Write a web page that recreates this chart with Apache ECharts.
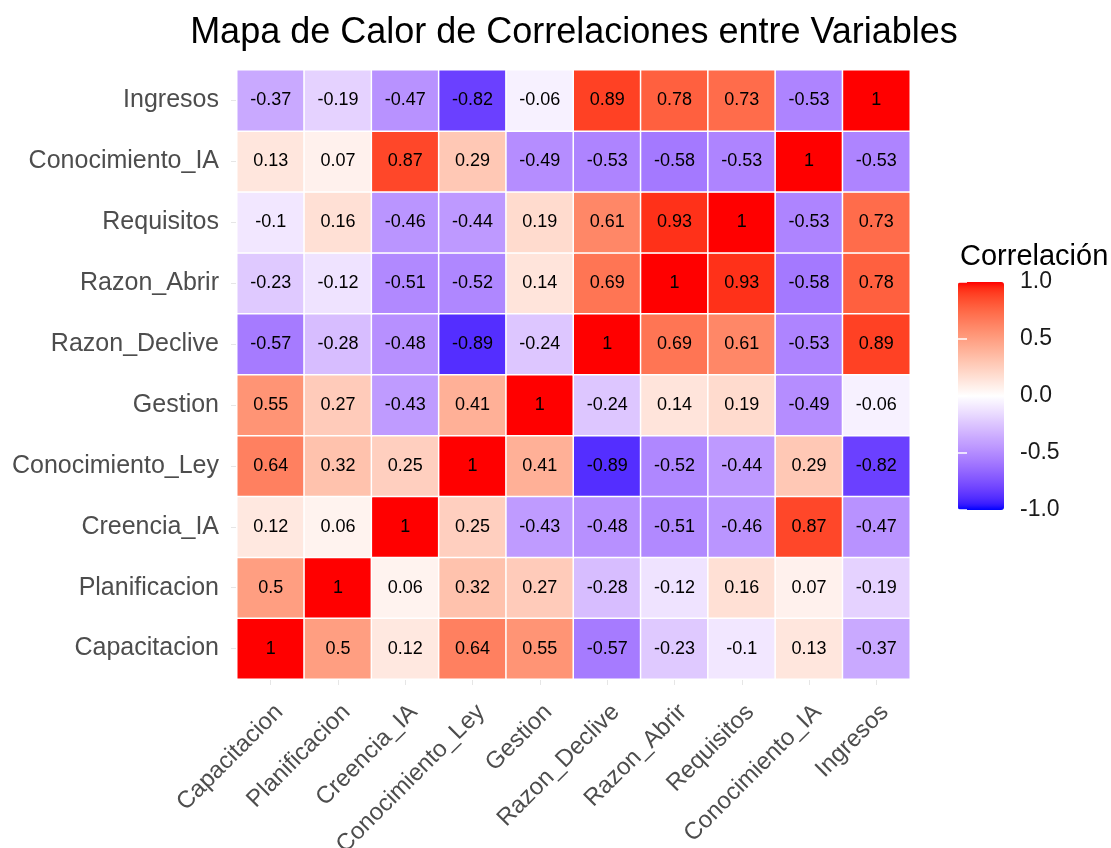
<!DOCTYPE html>
<html>
<head>
<meta charset="utf-8">
<title>Mapa de Calor de Correlaciones</title>
<script src="https://cdn.jsdelivr.net/npm/echarts@6/dist/echarts.min.js"></script>
<style>
	html, body { margin: 0; padding: 0; background: #fff; }
	#chart { width: 1111px; height: 848px; }
</style>
</head>
<body>
<div id="chart"></div>
<script>
// variables, same order on both axes (y goes bottom -> top)
var variables = ['Capacitacion', 'Planificacion', 'Creencia_IA', 'Conocimiento_Ley', 'Gestion',
	'Razon_Declive', 'Razon_Abrir', 'Requisitos', 'Conocimiento_IA', 'Ingresos'];

// one row per variable, values read left -> right
var capacitacion    = [1, 0.5, 0.12, 0.64, 0.55, -0.57, -0.23, -0.1, 0.13, -0.37];
var planificacion   = [0.5, 1, 0.06, 0.32, 0.27, -0.28, -0.12, 0.16, 0.07, -0.19];
var creenciaIA      = [0.12, 0.06, 1, 0.25, -0.43, -0.48, -0.51, -0.46, 0.87, -0.47];
var conocimientoLey = [0.64, 0.32, 0.25, 1, 0.41, -0.89, -0.52, -0.44, 0.29, -0.82];
var gestion         = [0.55, 0.27, -0.43, 0.41, 1, -0.24, 0.14, 0.19, -0.49, -0.06];
var razonDeclive    = [-0.57, -0.28, -0.48, -0.89, -0.24, 1, 0.69, 0.61, -0.53, 0.89];
var razonAbrir      = [-0.23, -0.12, -0.51, -0.52, 0.14, 0.69, 1, 0.93, -0.58, 0.78];
var requisitos      = [-0.1, 0.16, -0.46, -0.44, 0.19, 0.61, 0.93, 1, -0.53, 0.73];
var conocimientoIA  = [0.13, 0.07, 0.87, 0.29, -0.49, -0.53, -0.58, -0.53, 1, -0.53];
var ingresos        = [-0.37, -0.19, -0.47, -0.82, -0.06, 0.89, 0.78, 0.73, -0.53, 1];

var legendTicks = [-1, -0.5, 0, 0.5, 1];

var rows = [capacitacion, planificacion, creenciaIA, conocimientoLey, gestion,
	razonDeclive, razonAbrir, requisitos, conocimientoIA, ingresos];

var cells = [];
rows.forEach(function (row, y) {
	row.forEach(function (v, x) {
		cells.push([x, y, v]);
	});
});

// ggplot mixes the gradient in Lab, so build the stops that way
function toLin(c) { c = c / 255; return c <= 0.04045 ? c / 12.92 : Math.pow((c + 0.055) / 1.055, 2.4); }
function fromLin(c) { c = c <= 0.0031308 ? 12.92 * c : 1.055 * Math.pow(c, 1 / 2.4) - 0.055; return Math.max(0, Math.min(255, Math.round(c * 255))); }
function rgb2lab(rgb) {
	var r = toLin(rgb[0]), g = toLin(rgb[1]), b = toLin(rgb[2]);
	var X = (0.4124 * r + 0.3576 * g + 0.1805 * b) / 0.95047;
	var Y = (0.2126 * r + 0.7152 * g + 0.0722 * b);
	var Z = (0.0193 * r + 0.1192 * g + 0.9505 * b) / 1.08883;
	var f = function (t) { return t > 0.008856 ? Math.cbrt(t) : 7.787 * t + 16 / 116; };
	return [116 * f(Y) - 16, 500 * (f(X) - f(Y)), 200 * (f(Y) - f(Z))];
}
function lab2rgb(lab) {
	var fy = (lab[0] + 16) / 116, fx = fy + lab[1] / 500, fz = fy - lab[2] / 200;
	var inv = function (t) { return t * t * t > 0.008856 ? t * t * t : (t - 16 / 116) / 7.787; };
	var X = inv(fx) * 0.95047, Y = inv(fy), Z = inv(fz) * 1.08883;
	var r = 3.2406 * X - 1.5372 * Y - 0.4986 * Z;
	var g = -0.9689 * X + 1.8758 * Y + 0.0415 * Z;
	var b = 0.0557 * X - 0.2040 * Y + 1.0570 * Z;
	return 'rgb(' + fromLin(r) + ',' + fromLin(g) + ',' + fromLin(b) + ')';
}
var labLow = rgb2lab([0, 0, 255]), labMid = rgb2lab([255, 255, 255]), labHigh = rgb2lab([255, 0, 0]);
var stops = [];
for (var i = 0; i <= 40; i++) {
	var v = -1 + i / 20;
	var end = v < 0 ? labLow : labHigh, t = Math.abs(v);
	stops.push(lab2rgb([0, 1, 2].map(function (k) { return labMid[k] + (end[k] - labMid[k]) * t; })));
}

var font = '"Liberation Sans", Arial, sans-serif';
var chart = echarts.init(document.getElementById('chart'));

var option = {
	backgroundColor: '#fff',
	textStyle: { fontFamily: font },
	title: [
		{
			text: 'Mapa de Calor de Correlaciones entre Variables',
			left: 569, top: 10, textAlign: 'center',
			textStyle: { fontSize: 36, fontWeight: 'normal', color: '#000', fontFamily: font }
		},
		{
			text: 'Correlación',
			left: 955, top: 237,
			textStyle: { fontSize: 29, fontWeight: 'normal', color: '#000', fontFamily: font }
		}
	],
	grid: [
		{ left: 237, right: 201, top: 70, bottom: 169, outerBoundsMode: 'none', containLabel: false },
		{ left: 958, top: 282, width: 46, height: 228, outerBoundsMode: 'none', containLabel: false }
	],
	xAxis: [
		{
			type: 'category', data: variables, gridIndex: 0,
			axisLine: { show: false },
			axisTick: { show: true, alignWithLabel: true, length: 6, lineStyle: { color: '#e6e6e6' } },
			axisLabel: { rotate: 45, margin: 21, verticalAlign: 'top', fontSize: 24, color: '#4d4d4d', fontFamily: font },
			splitLine: { show: false }
		},
		{ type: 'value', gridIndex: 1, show: false, min: 0, max: 1 }
	],
	yAxis: [
		{
			type: 'category', data: variables, gridIndex: 0,
			axisLine: { show: false },
			axisTick: { show: true, alignWithLabel: true, length: 6, lineStyle: { color: '#e6e6e6' } },
			axisLabel: { margin: 18, fontSize: 25, color: '#4d4d4d', fontFamily: font },
			splitLine: { show: false }
		},
		{
			type: 'value', gridIndex: 1, min: -1, max: 1, interval: 0.5, position: 'right', z: 10,
			axisLine: { show: false },
			axisTick: { show: true, inside: true, length: 9, lineStyle: { color: '#fff', width: 1.5 } },
			axisLabel: { margin: 16, fontSize: 23, color: '#1a1a1a', fontFamily: font,
				formatter: function (v) { return v.toFixed(1); } },
			splitLine: { show: false }
		},
		{
			type: 'value', gridIndex: 1, min: -1, max: 1, interval: 0.5, position: 'left', z: 10,
			axisLine: { show: false },
			axisTick: { show: true, inside: true, length: 9, lineStyle: { color: '#fff', width: 1.5 } },
			axisLabel: { show: false },
			splitLine: { show: false }
		}
	],
	visualMap: {
		type: 'continuous', min: legendTicks[0], max: legendTicks[legendTicks.length - 1],
		seriesIndex: 0, calculable: false, padding: 0,
		left: 958, top: 282, itemWidth: 46, itemHeight: 228,
		text: null, showLabel: false,
		inRange: { color: stops }
	},
	series: [
		{
			type: 'heatmap', xAxisIndex: 0, yAxisIndex: 0,
			data: cells,
			label: { show: true, fontSize: 18, color: '#000', fontFamily: font,
				formatter: function (p) { return String(p.value[2]); } },
			itemStyle: { borderColor: '#fff', borderWidth: 1.5 },
			emphasis: { disabled: true }
		}
	]
};

chart.setOption(option);
</script>
</body>
</html>
